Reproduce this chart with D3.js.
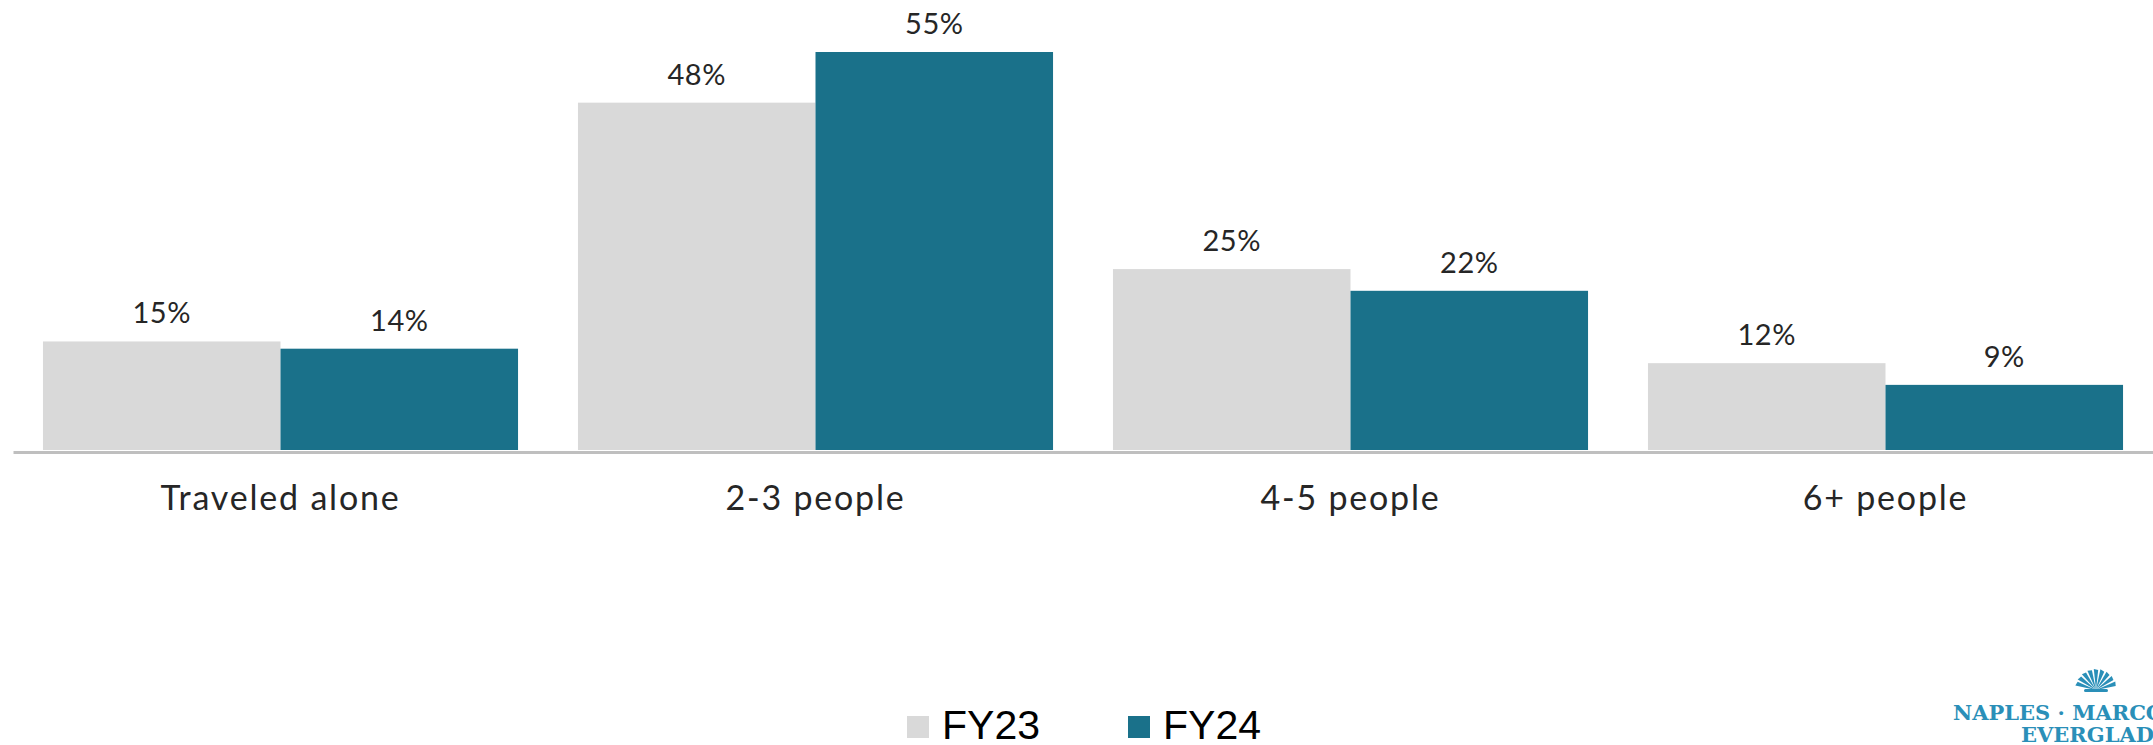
<!DOCTYPE html>
<html>
<head>
<meta charset="utf-8">
<script src="https://cdn.jsdelivr.net/npm/d3@7"></script>
<style>
  body { margin: 0; background: #fff; }
  svg { display: block; }
</style>
</head>
<body>
<svg id="chart"></svg>
<script>
const categories = ["Traveled alone", "2-3 people", "4-5 people", "6+ people"];
const series = ["FY23", "FY24"];
const fy23 = [15, 48, 25, 12];
const fy24 = [14, 55, 22, 9];
const colors = ["#d9d9d9", "#1a718a"];

const width = 2153, height = 745;
const baseline = 450;

const svg = d3.select("#chart")
    .attr("width", width)
    .attr("height", height)
    .attr("font-family", "Lato, 'Open Sans', sans-serif");

const x = d3.scaleBand()
    .domain(categories)
    .range([13, 2153])
    .paddingInner(0.112)
    .paddingOuter(0.056);

const xs = d3.scaleBand()
    .domain(series)
    .range([0, x.bandwidth()]);

const y = d3.scaleLinear()
    .domain([0, 55])
    .range([baseline, 52]);

const rows = categories.map((c, i) => ({cat: c, values: [fy23[i], fy24[i]]}));

const group = svg.selectAll("g.cat")
    .data(rows)
    .join("g")
      .attr("class", "cat")
      .attr("transform", d => `translate(${x(d.cat)},0)`);

group.selectAll("rect")
    .data(d => d.values.map((v, j) => ({s: series[j], v: v, j: j})))
    .join("rect")
      .attr("x", d => xs(d.s))
      .attr("y", d => y(d.v))
      .attr("width", xs.bandwidth())
      .attr("height", d => baseline - y(d.v))
      .attr("fill", d => colors[d.j]);

group.selectAll("text.val")
    .data(d => d.values.map((v, j) => ({s: series[j], v: v})))
    .join("text")
      .attr("class", "val")
      .attr("x", d => xs(d.s) + xs.bandwidth() / 2)
      .attr("y", d => y(d.v) - 18)
      .attr("text-anchor", "middle")
      .attr("font-size", 29)
      .attr("letter-spacing", 0.5)
      .attr("fill", "#262626")
      .text(d => d.v + "%");

// axis line + category labels
const xAxis = d3.axisBottom(x).tickSize(0).tickPadding(0);
const ax = svg.append("g")
    .attr("transform", `translate(0,${baseline + 2})`)
    .call(xAxis);
ax.select(".domain").attr("stroke", "#bfbfbf").attr("stroke-width", 3);
ax.selectAll(".tick text")
    .attr("font-family", "Lato, 'Open Sans', sans-serif")
    .attr("font-size", 34)
    .attr("letter-spacing", 1.8)
    .attr("fill", "#262626")
    .attr("dy", 0)
    .attr("y", 58);

// legend
const legend = svg.append("g").attr("font-family", "'Liberation Sans', Arial, sans-serif");
const legendX = [907, 1128];
series.forEach((s, i) => {
  legend.append("rect")
      .attr("x", legendX[i]).attr("y", 716)
      .attr("width", 22).attr("height", 22)
      .attr("fill", colors[i]);
  legend.append("text")
      .attr("x", legendX[i] + 35).attr("y", 739)
      .attr("font-size", 41)
      .attr("fill", "#000")
      .text(s);
});

// logo
const logo = svg.append("g").attr("fill", "#2a8fb8");
const fan = logo.append("g").attr("transform", "translate(2096,690)");
d3.range(9).forEach(k => {
  const a = -Math.PI * 0.9 + k * (Math.PI * 0.8 / 8);
  fan.append("path")
      .attr("d", d3.line()([[0, 0], [Math.cos(a) * 20 - 2.2 * Math.sin(a), Math.sin(a) * 20 + 2.2 * Math.cos(a)], [Math.cos(a) * 21 + 2.2 * Math.sin(a), Math.sin(a) * 21 - 2.2 * Math.cos(a)]]) + "Z");
});
fan.append("rect").attr("x", -12).attr("y", -1).attr("width", 24).attr("height", 3).attr("rx", 1.5);
logo.append("text")
    .attr("x", 1953).attr("y", 720)
    .attr("font-family", "'DejaVu Serif', serif")
    .attr("font-weight", "bold")
    .attr("font-size", 21)
    .attr("letter-spacing", 0)
    .text("NAPLES · MARCO ISLAND");
logo.append("text")
    .attr("x", 2021).attr("y", 742)
    .attr("font-family", "'DejaVu Serif', serif")
    .attr("font-weight", "bold")
    .attr("font-size", 21)
    .attr("letter-spacing", 0)
    .text("EVERGLADES");
</script>
</body>
</html>
